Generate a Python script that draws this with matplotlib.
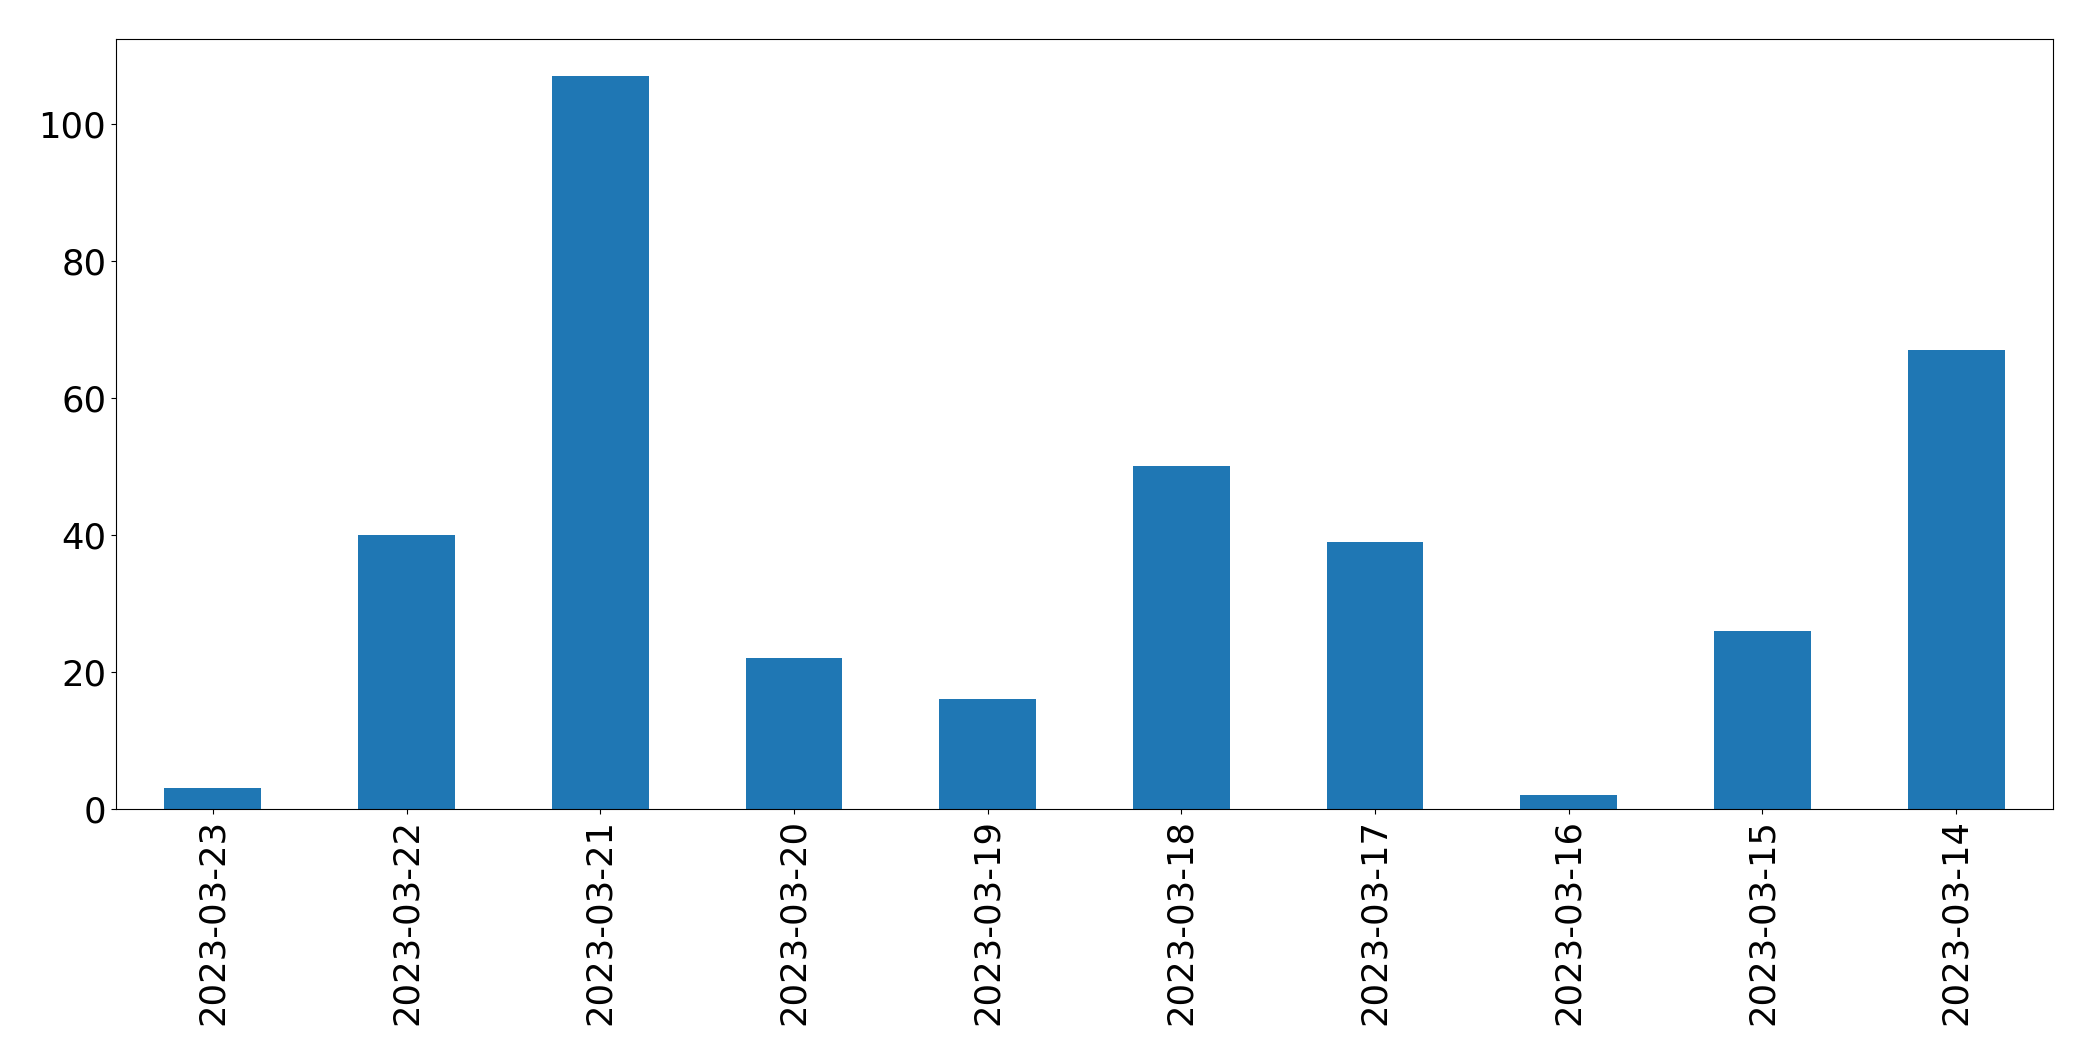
import matplotlib
matplotlib.use("Agg")
import matplotlib.pyplot as plt

dates = ["2023-03-23", "2023-03-22", "2023-03-21", "2023-03-20", "2023-03-19",
         "2023-03-18", "2023-03-17", "2023-03-16", "2023-03-15", "2023-03-14"]
counts = [3, 40, 107, 22, 16, 50, 39, 2, 26, 67]

fig = plt.figure(figsize=(20.93, 10.61), dpi=100)
ax = fig.add_axes([116/2093, 1 - 809/1061, (2053-116)/2093, (809-39)/1061])
x = list(range(len(dates)))
ax.bar(x, counts, width=0.5, color="#1f77b4")
ax.set_xlim(-0.5, len(dates) - 0.5)
ax.set_xticks(x)
ax.set_xticklabels(dates, rotation=90)
ax.tick_params(axis="both", labelsize=25.5)
fig.savefig("out.png", dpi=100)
